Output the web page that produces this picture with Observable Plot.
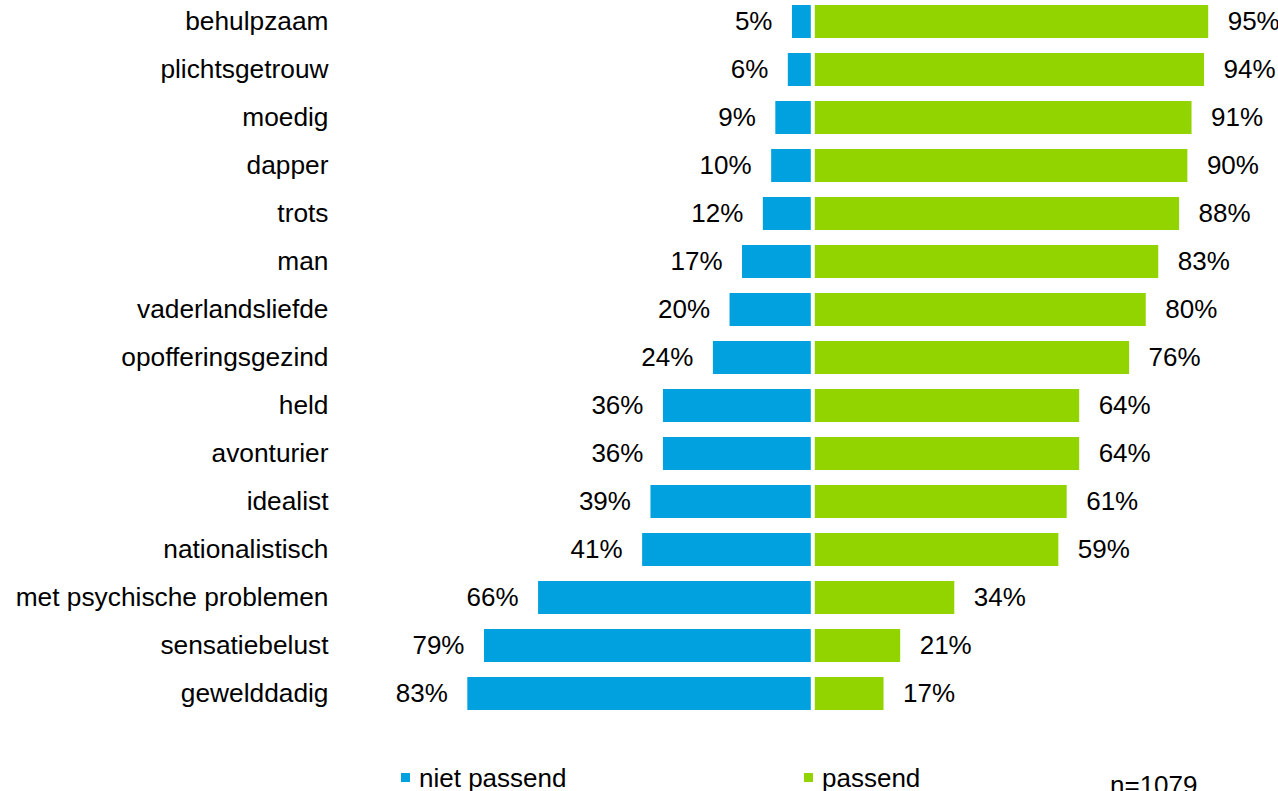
<!DOCTYPE html>
<html>
<head>
<meta charset="utf-8">
<script src="https://cdn.jsdelivr.net/npm/d3@7"></script>
<script src="https://cdn.jsdelivr.net/npm/@observablehq/plot@0.6"></script>
<style>
  body { margin: 0; background: #fff; font-family: "Liberation Sans", Arial, sans-serif; color: #000; }
  #wrap { position: relative; width: 1278px; height: 791px; overflow: hidden; }
  #legend { position: absolute; left: 0; top: 715px; width: 1278px; height: 76px; font-size: 26px; }
  .item { position: absolute; white-space: nowrap; line-height: 1; }
  .sw { position: absolute; width: 9px; height: 9px; }
</style>
</head>
<body>
<div id="wrap">
  <div id="chart"></div>
  <div id="legend"></div>
</div>
<script>
const categories = ["behulpzaam","plichtsgetrouw","moedig","dapper","trots","man","vaderlandsliefde","opofferingsgezind","held","avonturier","idealist","nationalistisch","met psychische problemen","sensatiebelust","gewelddadig"];
const nietPassend = [5,6,9,10,12,17,20,24,36,36,39,41,66,79,83];
const passend = [95,94,91,90,88,83,80,76,64,64,61,59,34,21,17];
const seriesNames = ["niet passend", "passend"];
const colors = ["#00A1DE", "#92D400"];
const sampleNote = "n=1079";

const rows = categories.map((c, i) => ({cat: c, neg: nietPassend[i], pos: passend[i]}));

const chart = Plot.plot({
  width: 1278,
  height: 715,
  marginLeft: 459,
  marginRight: 49,
  marginTop: 0,
  marginBottom: 0,
  style: {fontSize: "26.3px", fontFamily: "'Liberation Sans', Arial, sans-serif", color: "#000", background: "#fff"},
  x: {domain: [-85, 100], axis: null},
  y: {domain: categories, paddingInner: 0.31, paddingOuter: 0.092, label: null},
  marks: [
    Plot.axisY({tickSize: 0, tickPadding: 131, fontSize: 26.3}),
    Plot.barX(rows, {y: "cat", x1: d => -d.neg, x2: 0, fill: colors[0], insetRight: 2}),
    Plot.barX(rows, {y: "cat", x1: 0, x2: d => d.pos, fill: colors[1], insetLeft: 2}),
    Plot.text(rows, {y: "cat", x: d => -d.neg, text: d => d.neg + "%", textAnchor: "end", dx: -20, fontSize: 26, fill: "#000"}),
    Plot.text(rows, {y: "cat", x: d => d.pos, text: d => d.pos + "%", textAnchor: "start", dx: 19, fontSize: 26, fill: "#000"})
  ]
});
document.getElementById("chart").appendChild(chart);

const legend = document.getElementById("legend");
const items = [
  {sw: 401, tx: 419, name: seriesNames[0], color: colors[0]},
  {sw: 804, tx: 822, name: seriesNames[1], color: colors[1]}
];
items.forEach(it => {
  const s = document.createElement("div");
  s.className = "sw";
  s.style.left = it.sw + "px";
  s.style.top = (773 - 715) + "px";
  s.style.background = it.color;
  legend.appendChild(s);
  const t = document.createElement("div");
  t.className = "item";
  t.style.left = it.tx + "px";
  t.style.top = (765 - 715) + "px";
  t.textContent = it.name;
  legend.appendChild(t);
});
const n = document.createElement("div");
n.className = "item";
n.style.left = "1110px";
n.style.top = (772 - 715) + "px";
n.textContent = sampleNote;
legend.appendChild(n);
</script>
</body>
</html>
